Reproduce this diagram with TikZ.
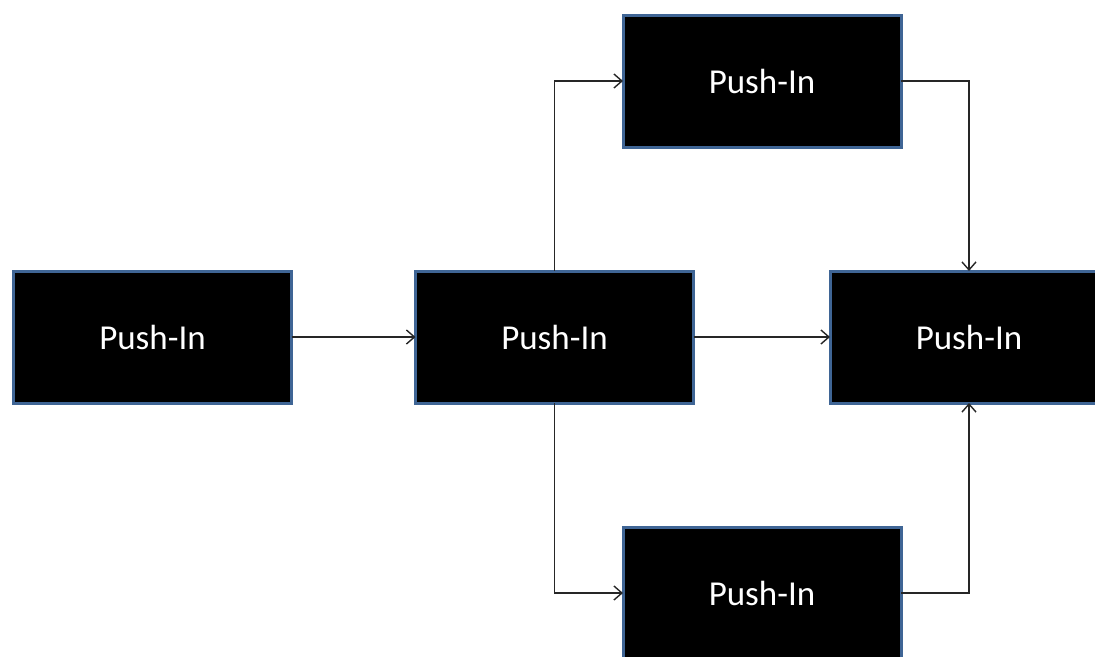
\documentclass[tikz,border=0pt]{standalone}
\usepackage{fontspec}
\setmainfont{Carlito}
\usetikzlibrary{arrows.meta}
\definecolor{boxborder}{HTML}{3F6595}
\tikzset{
  pbox/.style={draw=boxborder, line width=3pt, fill=black, text=white,
    minimum width=278pt, minimum height=132pt, inner sep=0pt, outer sep=0pt,
    font=\fontsize{35}{40}\selectfont},
  conn/.style={draw=black!85, line width=1.4pt, -{Straight Barb[length=8pt,width=14pt,line width=1.4pt]}}
}
\begin{document}
\begin{tikzpicture}[x=1pt,y=-1pt]
\useasboundingbox (0,0) rectangle (1095,656);
\clip (0,0) rectangle (1095,656);
\node[pbox] (a) at (152.5,337) {Push-In};
\node[pbox] (b) at (554.5,337) {Push-In};
\node[pbox] (c) at (762,81) {Push-In};
\node[pbox] (d) at (969,337) {Push-In};
\node[pbox] (e) at (762,593) {Push-In};
\draw[conn] (a.east) -- (b.west);
\draw[conn] (b.east) -- (d.west);
\draw[conn] (b.north) |- (c.west);
\draw[conn] (b.south) |- (e.west);
\draw[conn] (c.east) -| (d.north);
\draw[conn] (e.east) -| (d.south);
\end{tikzpicture}
\end{document}
